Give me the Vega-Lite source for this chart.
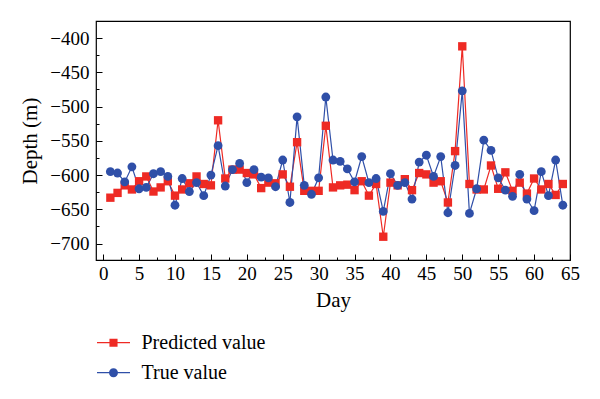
{
  "$schema": "https://vega.github.io/schema/vega-lite/v6.json",
  "autosize": "none",
  "width": 474,
  "height": 239,
  "padding": {"left": 96, "top": 21, "right": 30, "bottom": 139},
  "background": "white",
  "config": {
    "view": {"stroke": "#000", "strokeWidth": 1.2},
    "font": "Liberation Serif",
    "axis": {
      "labelFont": "Liberation Serif",
      "titleFont": "Liberation Serif",
      "labelColor": "#000",
      "titleColor": "#000",
      "labelFontSize": 19,
      "titleFontSize": 21,
      "titleFontWeight": "normal",
      "domainColor": "#000",
      "tickColor": "#000",
      "tickWidth": 1,
      "grid": false
    }
  },
  "data": {
    "values": [
      {"day":1,"series":"Predicted value","depth":-633},{"day":2,"series":"Predicted value","depth":-626},{"day":3,"series":"Predicted value","depth":-615},{"day":4,"series":"Predicted value","depth":-621},{"day":5,"series":"Predicted value","depth":-609},{"day":6,"series":"Predicted value","depth":-602},{"day":7,"series":"Predicted value","depth":-624},{"day":8,"series":"Predicted value","depth":-618},{"day":9,"series":"Predicted value","depth":-609},{"day":10,"series":"Predicted value","depth":-630},{"day":11,"series":"Predicted value","depth":-621},{"day":12,"series":"Predicted value","depth":-612},{"day":13,"series":"Predicted value","depth":-602},{"day":14,"series":"Predicted value","depth":-613},{"day":15,"series":"Predicted value","depth":-615},{"day":16,"series":"Predicted value","depth":-520},{"day":17,"series":"Predicted value","depth":-605},{"day":18,"series":"Predicted value","depth":-592},{"day":19,"series":"Predicted value","depth":-592},{"day":20,"series":"Predicted value","depth":-597},{"day":21,"series":"Predicted value","depth":-599},{"day":22,"series":"Predicted value","depth":-619},{"day":23,"series":"Predicted value","depth":-611},{"day":24,"series":"Predicted value","depth":-612},{"day":25,"series":"Predicted value","depth":-599},{"day":26,"series":"Predicted value","depth":-617},{"day":27,"series":"Predicted value","depth":-552},{"day":28,"series":"Predicted value","depth":-623},{"day":29,"series":"Predicted value","depth":-623},{"day":30,"series":"Predicted value","depth":-623},{"day":31,"series":"Predicted value","depth":-528},{"day":32,"series":"Predicted value","depth":-618},{"day":33,"series":"Predicted value","depth":-615},{"day":34,"series":"Predicted value","depth":-614},{"day":35,"series":"Predicted value","depth":-622},{"day":36,"series":"Predicted value","depth":-609},{"day":37,"series":"Predicted value","depth":-630},{"day":38,"series":"Predicted value","depth":-613},{"day":39,"series":"Predicted value","depth":-690},{"day":40,"series":"Predicted value","depth":-611},{"day":41,"series":"Predicted value","depth":-615},{"day":42,"series":"Predicted value","depth":-606},{"day":43,"series":"Predicted value","depth":-622},{"day":44,"series":"Predicted value","depth":-597},{"day":45,"series":"Predicted value","depth":-599},{"day":46,"series":"Predicted value","depth":-611},{"day":47,"series":"Predicted value","depth":-609},{"day":48,"series":"Predicted value","depth":-640},{"day":49,"series":"Predicted value","depth":-565},{"day":50,"series":"Predicted value","depth":-412},{"day":51,"series":"Predicted value","depth":-613},{"day":52,"series":"Predicted value","depth":-621},{"day":53,"series":"Predicted value","depth":-621},{"day":54,"series":"Predicted value","depth":-586},{"day":55,"series":"Predicted value","depth":-620},{"day":56,"series":"Predicted value","depth":-596},{"day":57,"series":"Predicted value","depth":-623},{"day":58,"series":"Predicted value","depth":-611},{"day":59,"series":"Predicted value","depth":-627},{"day":60,"series":"Predicted value","depth":-605},{"day":61,"series":"Predicted value","depth":-621},{"day":62,"series":"Predicted value","depth":-613},{"day":63,"series":"Predicted value","depth":-629},{"day":64,"series":"Predicted value","depth":-613},
      {"day":1,"series":"True value","depth":-595},{"day":2,"series":"True value","depth":-597},{"day":3,"series":"True value","depth":-610},{"day":4,"series":"True value","depth":-588},{"day":5,"series":"True value","depth":-620},{"day":6,"series":"True value","depth":-618},{"day":7,"series":"True value","depth":-598},{"day":8,"series":"True value","depth":-595},{"day":9,"series":"True value","depth":-602},{"day":10,"series":"True value","depth":-644},{"day":11,"series":"True value","depth":-605},{"day":12,"series":"True value","depth":-624},{"day":13,"series":"True value","depth":-611},{"day":14,"series":"True value","depth":-630},{"day":15,"series":"True value","depth":-600},{"day":16,"series":"True value","depth":-557},{"day":17,"series":"True value","depth":-616},{"day":18,"series":"True value","depth":-592},{"day":19,"series":"True value","depth":-583},{"day":20,"series":"True value","depth":-611},{"day":21,"series":"True value","depth":-592},{"day":22,"series":"True value","depth":-603},{"day":23,"series":"True value","depth":-604},{"day":24,"series":"True value","depth":-617},{"day":25,"series":"True value","depth":-578},{"day":26,"series":"True value","depth":-640},{"day":27,"series":"True value","depth":-515},{"day":28,"series":"True value","depth":-615},{"day":29,"series":"True value","depth":-628},{"day":30,"series":"True value","depth":-604},{"day":31,"series":"True value","depth":-486},{"day":32,"series":"True value","depth":-578},{"day":33,"series":"True value","depth":-580},{"day":34,"series":"True value","depth":-591},{"day":35,"series":"True value","depth":-610},{"day":36,"series":"True value","depth":-573},{"day":37,"series":"True value","depth":-611},{"day":38,"series":"True value","depth":-605},{"day":39,"series":"True value","depth":-653},{"day":40,"series":"True value","depth":-598},{"day":41,"series":"True value","depth":-615},{"day":42,"series":"True value","depth":-611},{"day":43,"series":"True value","depth":-635},{"day":44,"series":"True value","depth":-581},{"day":45,"series":"True value","depth":-571},{"day":46,"series":"True value","depth":-602},{"day":47,"series":"True value","depth":-573},{"day":48,"series":"True value","depth":-655},{"day":49,"series":"True value","depth":-586},{"day":50,"series":"True value","depth":-477},{"day":51,"series":"True value","depth":-656},{"day":52,"series":"True value","depth":-620},{"day":53,"series":"True value","depth":-549},{"day":54,"series":"True value","depth":-564},{"day":55,"series":"True value","depth":-604},{"day":56,"series":"True value","depth":-622},{"day":57,"series":"True value","depth":-631},{"day":58,"series":"True value","depth":-599},{"day":59,"series":"True value","depth":-635},{"day":60,"series":"True value","depth":-652},{"day":61,"series":"True value","depth":-595},{"day":62,"series":"True value","depth":-630},{"day":63,"series":"True value","depth":-578},{"day":64,"series":"True value","depth":-644}
    ]
  },
  "encoding": {
    "x": {
      "field": "day", "type": "quantitative",
      "scale": {"domain": [-1, 65], "nice": false, "zero": false},
      "axis": {
        "title": "Day",
        "labelFont": "Liberation Serif",
        "values": [0,2.5,5,7.5,10,12.5,15,17.5,20,22.5,25,27.5,30,32.5,35,37.5,40,42.5,45,47.5,50,52.5,55,57.5,60,62.5,65],
        "labelExpr": "datum.value % 5 === 0 ? datum.label : ''",
        "tickSize": {"condition": {"test": "datum.value % 5 === 0", "value": -6}, "value": -3},
        "labelPadding": 10,
        "titlePadding": 3,
        "domain": false,
        "labelFlush": false,
        "labelOverlap": false
      }
    },
    "y": {
      "field": "depth", "type": "quantitative",
      "scale": {"domain": [-724, -375], "nice": false, "zero": false},
      "axis": {
        "title": "Depth (m)",
        "labelFont": "Liberation Serif",
        "values": [-700,-675,-650,-625,-600,-575,-550,-525,-500,-475,-450,-425,-400],
        "labelExpr": "datum.value % 50 === 0 ? datum.label : ''",
        "tickSize": {"condition": {"test": "datum.value % 50 === 0", "value": -6}, "value": -3},
        "labelPadding": 13,
        "titlePadding": 9,
        "domain": false,
        "labelFlush": false,
        "labelOverlap": false
      }
    }
  },
  "layer": [
    {
      "mark": {"type": "line", "strokeWidth": 1.2},
      "encoding": {
        "color": {
          "field": "series", "type": "nominal",
          "scale": {"domain": ["Predicted value", "True value"], "range": ["#ee2a24", "#2f4fa8"]}
        },
        "detail": {"field": "series"}
      }
    },
    {
      "transform": [{"filter": "datum.series === 'Predicted value'"}],
      "mark": {"type": "point", "filled": true, "opacity": 1, "shape": "square", "size": 70},
      "encoding": {
        "color": {"field": "series", "type": "nominal"}
      }
    },
    {
      "transform": [{"filter": "datum.series === 'True value'"}],
      "mark": {"type": "point", "filled": true, "opacity": 1, "shape": "circle", "size": 78},
      "encoding": {
        "color": {"field": "series", "type": "nominal"}
      }
    },
    {
      "transform": [{"filter": "datum.day < 0"}],
      "mark": {"type": "point", "filled": true, "opacity": 1},
      "encoding": {
        "color": {
          "field": "series", "type": "nominal",
          "legend": {
            "title": null,
            "orient": "none",
            "legendX": 2.5,
            "legendY": 306.7,
            "direction": "vertical",
            "symbolSize": 900,
            "symbolStrokeWidth": 0,
            "rowPadding": 5,
            "labelFont": "Liberation Serif",
            "labelFontSize": 20,
            "labelColor": "#000",
            "labelOffset": 13,
            "padding": 0
          }
        },
        "shape": {
          "field": "series", "type": "nominal",
          "scale": {
            "domain": ["Predicted value", "True value"],
            "range": [
              "M-1.1,-0.04H1.1V0.04H-1.1ZM-0.27,-0.27H0.27V0.27H-0.27Z",
              "M-1.1,-0.04H1.1V0.04H-1.1ZM0.3,0A0.3,0.3,0,1,1,-0.3,0A0.3,0.3,0,1,1,0.3,0Z"
            ]
          },
          "legend": {
            "title": null,
            "orient": "none",
            "legendX": 2.5,
            "legendY": 306.7,
            "direction": "vertical",
            "symbolSize": 900,
            "symbolStrokeWidth": 0,
            "rowPadding": 5,
            "labelFont": "Liberation Serif",
            "labelFontSize": 20,
            "labelColor": "#000",
            "labelOffset": 13,
            "padding": 0
          }
        }
      }
    }
  ]
}
